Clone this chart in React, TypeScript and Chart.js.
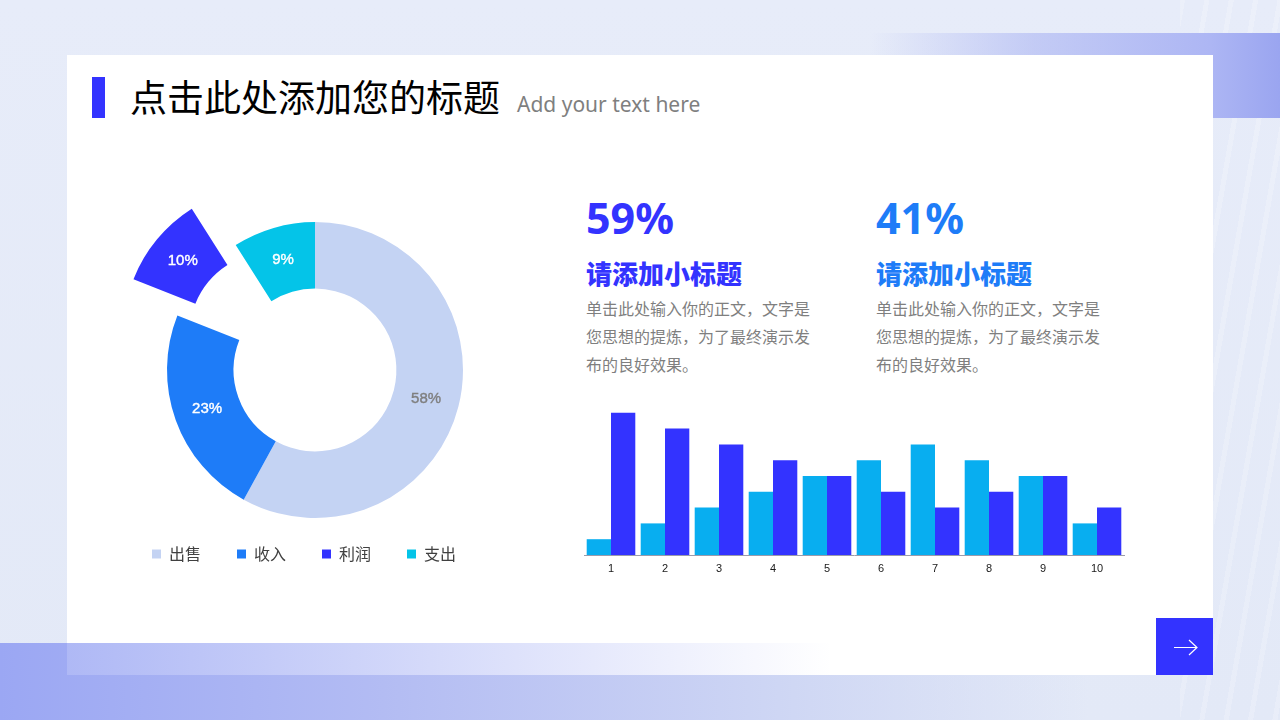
import React, { useEffect, useRef } from 'react';
import { Chart, registerables } from 'chart.js';

Chart.register(...registerables);

// ---------- data ----------
const pieLabels = ['出售', '收入', '利润', '支出'];
const pieValues = [58, 23, 10, 9];

const barCategories = ['1', '2', '3', '4', '5', '6', '7', '8', '9', '10'];
const seriesCyan = [1, 2, 3, 4, 5, 6, 7, 6, 5, 2];
const seriesIndigo = [9, 8, 7, 6, 5, 4, 3, 4, 5, 3];

const statValues = ['59%', '41%'];
const statTitles = ['请添加小标题', '请添加小标题'];
const statBody = ['单击此处输入你的正文，文字是', '您思想的提炼，为了最终演示发', '布的良好效果。'];

const titleText = '点击此处添加您的标题';
const subTitleText = 'Add your text here';

// ---------- styles ----------
const pieColors = ['#c4d3f3', '#1e7cf8', '#3333ff', '#04c4e8'];
const pieLabelColors = ['#7f7f7f', '#ffffff', '#ffffff', '#ffffff'];
const pieExplode = [0, 0, 57, 0];
const statColors = ['#3333ff', '#1e7cf8'];
const CJK = '"Noto Sans CJK SC", "Noto Sans", sans-serif';

function PieChart() {
  const ref = useRef<HTMLCanvasElement>(null);
  useEffect(() => {
    const canvas = ref.current;
    if (!canvas) return;
    const explodePlugin = {
      id: 'explodeArcs',
      beforeDatasetDraw(chart: any, args: any) {
        const ctx = chart.ctx;
        args.meta.data.forEach((arc: any, i: number) => {
          const mid = (arc.startAngle + arc.endAngle) / 2;
          const d = pieExplode[i] || 0;
          ctx.save();
          ctx.translate(Math.cos(mid) * d, Math.sin(mid) * d);
          arc.draw(ctx);
          ctx.restore();
        });
        return false;
      },
      afterDatasetsDraw(chart: any) {
        const ctx = chart.ctx;
        const meta = chart.getDatasetMeta(0);
        const values = chart.data.datasets[0].data;
        ctx.save();
        ctx.font = '15px "Liberation Sans", Arial, sans-serif';
        ctx.textAlign = 'center';
        ctx.textBaseline = 'middle';
        ctx.lineWidth = 0.4;
        meta.data.forEach((arc: any, i: number) => {
          const mid = (arc.startAngle + arc.endAngle) / 2;
          const r = (arc.innerRadius + arc.outerRadius) / 2 + (pieExplode[i] || 0);
          const tx = arc.x + Math.cos(mid) * r;
          const ty = arc.y + Math.sin(mid) * r;
          ctx.fillStyle = pieLabelColors[i];
          ctx.strokeStyle = pieLabelColors[i];
          ctx.fillText(values[i] + '%', tx, ty);
          ctx.strokeText(values[i] + '%', tx, ty);
        });
        ctx.restore();
      },
    };
    const chart = new Chart(canvas, {
      type: 'doughnut',
      data: {
        labels: pieLabels,
        datasets: [{ data: pieValues, backgroundColor: pieColors, borderWidth: 0 }],
      },
      options: {
        animation: false,
        responsive: false,
        radius: 148,
        cutout: '55%',
        layout: { padding: { left: 16, right: 0, top: 40, bottom: 0 } },
        plugins: {
          legend: {
            position: 'bottom',
            align: 'start',
            labels: {
              boxWidth: 9,
              boxHeight: 9,
              padding: 36,
              color: '#404040',
              font: { family: CJK, size: 16 },
            },
          },
          tooltip: { enabled: false },
        },
      } as any,
      plugins: [explodePlugin as any],
    });
    return () => chart.destroy();
  }, []);
  return (
    <canvas
      ref={ref}
      width={414}
      height={382}
      style={{ position: 'absolute', left: 100, top: 190, width: 414, height: 382 }}
    />
  );
}

function BarChart() {
  const ref = useRef<HTMLCanvasElement>(null);
  useEffect(() => {
    const canvas = ref.current;
    if (!canvas) return;
    const chart = new Chart(canvas, {
      type: 'bar',
      data: {
        labels: barCategories,
        datasets: [
          { data: seriesCyan, backgroundColor: '#08aef0', borderWidth: 0, categoryPercentage: 0.9, barPercentage: 1 },
          { data: seriesIndigo, backgroundColor: '#3333ff', borderWidth: 0, categoryPercentage: 0.9, barPercentage: 1 },
        ],
      },
      options: {
        animation: false,
        responsive: false,
        layout: { padding: { left: 10, right: 10, top: 17, bottom: 0 } },
        plugins: { legend: { display: false }, tooltip: { enabled: false } },
        scales: {
          x: {
            grid: { display: false, drawTicks: false },
            border: { display: true, color: '#9b9bab', width: 1 },
            ticks: {
              padding: 7,
              color: '#1a1a1a',
              font: { family: '"Liberation Sans", Arial, sans-serif', size: 11 },
            },
            afterFit: (s: any) => {
              s.height = 30;
            },
          },
          y: { display: false, min: 0, max: 10 },
        },
      } as any,
    });
    return () => chart.destroy();
  }, []);
  return (
    <canvas
      ref={ref}
      width={560}
      height={205}
      style={{ position: 'absolute', left: 574, top: 380, width: 560, height: 205 }}
    />
  );
}

function StatBlock({ idx, left }: { idx: number; left: number }) {
  return (
    <>
      <div
        style={{
          position: 'absolute', left, top: 196, fontFamily: '"Noto Sans", sans-serif', fontWeight: 700,
          fontSize: 43, lineHeight: '43px', color: statColors[idx], whiteSpace: 'nowrap',
        }}
      >
        {statValues[idx]}
      </div>
      <div
        style={{
          position: 'absolute', left, top: 260, fontFamily: CJK, fontWeight: 900,
          fontSize: 26, lineHeight: '26px', color: statColors[idx], whiteSpace: 'nowrap',
        }}
      >
        {statTitles[idx]}
      </div>
      <div style={{ position: 'absolute', left, top: 294, fontFamily: CJK, fontSize: 16, lineHeight: '28px', color: '#7f7f7f' }}>
        {statBody.map((l, i) => (
          <div key={i} style={{ whiteSpace: 'nowrap' }}>{l}</div>
        ))}
      </div>
    </>
  );
}

export default function App() {
  useEffect(() => {
    document.body.style.margin = '0';
  }, []);
  return (
    <div
      style={{
        position: 'fixed', left: 0, top: 0, width: 1280, height: 720, overflow: 'hidden',
        background: 'linear-gradient(180deg, #e7ecf9 0%, #e3e9f7 100%)', fontFamily: CJK,
      }}
    >
      {/* right side faint building stripes */}
      <div
        style={{
          position: 'absolute', left: 1180, top: 0, width: 100, height: 720,
          background: 'repeating-linear-gradient(100deg, rgba(255,255,255,0.2) 0px, rgba(255,255,255,0.2) 5px, rgba(255,255,255,0) 5px, rgba(255,255,255,0) 24px)',
        }}
      />
      {/* top-right band */}
      <div
        style={{
          position: 'absolute', left: 870, top: 33, width: 410, height: 85,
          background: 'linear-gradient(90deg, rgba(166,176,242,0) 0%, rgba(166,176,242,0.55) 40%, #adb6f4 83%, #9aa5f0 100%)',
        }}
      />
      {/* bottom band */}
      <div
        style={{
          position: 'absolute', left: 0, top: 643, width: 1280, height: 77,
          background: 'linear-gradient(90deg, #9ba7f3 0%, #b3bcf3 30%, #cfd7f4 62%, rgba(226,232,247,0) 85%)',
        }}
      />
      {/* white card */}
      <div style={{ position: 'absolute', left: 67, top: 55, width: 1146, height: 620, background: '#ffffff' }} />
      <div
        style={{
          position: 'absolute', left: 67, top: 643, width: 765, height: 32,
          background: 'linear-gradient(90deg, rgba(155,167,243,0.8) 0%, rgba(155,167,243,0) 100%)',
        }}
      />
      {/* title */}
      <div style={{ position: 'absolute', left: 92, top: 77, width: 13, height: 41, background: '#3333ff' }} />
      <div
        style={{
          position: 'absolute', left: 130, top: 78, fontSize: 37, lineHeight: '37px', color: '#000',
          whiteSpace: 'nowrap', fontFamily: CJK,
        }}
      >
        {titleText}
      </div>
      <div
        style={{
          position: 'absolute', left: 517, top: 94, fontSize: 21, lineHeight: '21px', color: '#7f7f7f',
          whiteSpace: 'nowrap', fontFamily: '"Noto Sans", sans-serif',
        }}
      >
        {subTitleText}
      </div>

      <PieChart />
      <StatBlock idx={0} left={586} />
      <StatBlock idx={1} left={876} />
      <BarChart />

      {/* arrow button */}
      <div style={{ position: 'absolute', left: 1156, top: 618, width: 57, height: 57, background: '#3333ff' }}>
        <svg width={57} height={57} style={{ display: 'block' }}>
          <path d="M18 29.5 H41 M33 22 L41 29.5 L33 37" stroke="#ffffff" strokeWidth={1.2} fill="none" />
        </svg>
      </div>
    </div>
  );
}
